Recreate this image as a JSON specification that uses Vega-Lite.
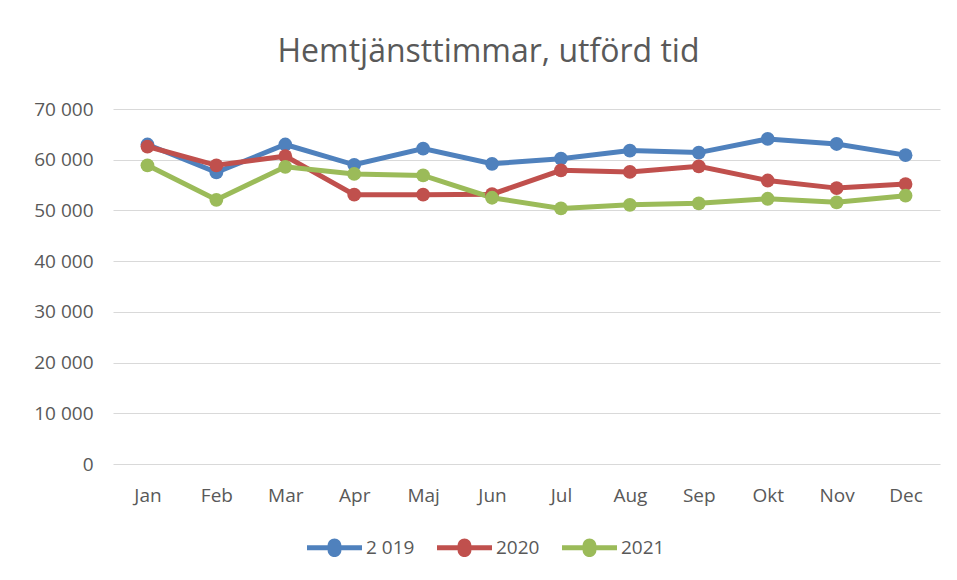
{
  "$schema": "https://vega.github.io/schema/vega-lite/v6.json",
  "autosize": "none",
  "width": 827,
  "height": 355,
  "padding": {"left": 113, "top": 109, "right": 17, "bottom": 116},
  "background": "white",
  "title": {
    "text": "Hemtjänsttimmar, utförd tid",
    "font": "Open Sans",
    "fontSize": 32,
    "fontWeight": "normal",
    "color": "#595959",
    "anchor": "middle",
    "dx": -38,
    "offset": 31
  },
  "data": {
    "values": [
      {"month": "Jan", "year": "2 019", "value": 63000},
      {"month": "Feb", "year": "2 019", "value": 57500},
      {"month": "Mar", "year": "2 019", "value": 63000},
      {"month": "Apr", "year": "2 019", "value": 59000},
      {"month": "Maj", "year": "2 019", "value": 62200},
      {"month": "Jun", "year": "2 019", "value": 59200},
      {"month": "Jul", "year": "2 019", "value": 60200},
      {"month": "Aug", "year": "2 019", "value": 61800},
      {"month": "Sep", "year": "2 019", "value": 61400},
      {"month": "Okt", "year": "2 019", "value": 64100},
      {"month": "Nov", "year": "2 019", "value": 63100},
      {"month": "Dec", "year": "2 019", "value": 60900},
      {"month": "Jan", "year": "2020", "value": 62600},
      {"month": "Feb", "year": "2020", "value": 58900},
      {"month": "Mar", "year": "2020", "value": 60700},
      {"month": "Apr", "year": "2020", "value": 53100},
      {"month": "Maj", "year": "2020", "value": 53100},
      {"month": "Jun", "year": "2020", "value": 53200},
      {"month": "Jul", "year": "2020", "value": 57900},
      {"month": "Aug", "year": "2020", "value": 57600},
      {"month": "Sep", "year": "2020", "value": 58700},
      {"month": "Okt", "year": "2020", "value": 55900},
      {"month": "Nov", "year": "2020", "value": 54400},
      {"month": "Dec", "year": "2020", "value": 55200},
      {"month": "Jan", "year": "2021", "value": 58900},
      {"month": "Feb", "year": "2021", "value": 52100},
      {"month": "Mar", "year": "2021", "value": 58600},
      {"month": "Apr", "year": "2021", "value": 57200},
      {"month": "Maj", "year": "2021", "value": 56900},
      {"month": "Jun", "year": "2021", "value": 52500},
      {"month": "Jul", "year": "2021", "value": 50400},
      {"month": "Aug", "year": "2021", "value": 51100},
      {"month": "Sep", "year": "2021", "value": 51400},
      {"month": "Okt", "year": "2021", "value": 52300},
      {"month": "Nov", "year": "2021", "value": 51600},
      {"month": "Dec", "year": "2021", "value": 52900}
    ]
  },
  "encoding": {
    "x": {
      "field": "month",
      "type": "ordinal",
      "sort": ["Jan", "Feb", "Mar", "Apr", "Maj", "Jun", "Jul", "Aug", "Sep", "Okt", "Nov", "Dec"],
      "scale": {"type": "point", "padding": 0.5},
      "axis": {
        "title": null,
        "labelAngle": 0,
        "domain": false,
        "ticks": false,
        "grid": false,
        "labelPadding": 22,
        "labelFont": "Open Sans",
        "labelFontSize": 19,
        "labelColor": "#595959"
      }
    },
    "y": {
      "field": "value",
      "type": "quantitative",
      "scale": {"domain": [0, 70000], "nice": false},
      "axis": {
        "title": null,
        "values": [0, 10000, 20000, 30000, 40000, 50000, 60000, 70000],
        "labelExpr": "replace(format(datum.value, ','), ',', ' ')",
        "domain": false,
        "ticks": false,
        "gridColor": "#d9d9d9",
        "gridWidth": 1,
        "labelPadding": 20,
        "labelFont": "Open Sans",
        "labelFontSize": 19,
        "labelColor": "#595959"
      }
    },
    "color": {
      "field": "year",
      "type": "nominal",
      "scale": {"domain": ["2 019", "2020", "2021"], "range": ["#4F81BD", "#C0504D", "#9BBB59"]},
      "legend": {
        "title": null,
        "orient": "none",
        "direction": "horizontal",
        "legendX": 194,
        "legendY": 411,
        "symbolType": "M-1,-0.09 L-0.25,-0.09 A0.25,0.25 0 0,1 0.25,-0.09 L1,-0.09 L1,0.09 L0.25,0.09 A0.25,0.25 0 0,1 -0.25,0.09 L-1,0.09 Z",
        "symbolSize": 3025,
        "symbolStrokeWidth": 0,
        "labelFont": "Open Sans",
        "labelFontSize": 19,
        "labelColor": "#595959",
        "labelOffset": 4,
        "columnPadding": 22
      }
    }
  },
  "layer": [
    {"mark": {"type": "line", "strokeWidth": 5}},
    {"mark": {"type": "point", "filled": true, "opacity": 1, "size": 190}}
  ],
  "config": {
    "view": {"stroke": null}
  }
}
